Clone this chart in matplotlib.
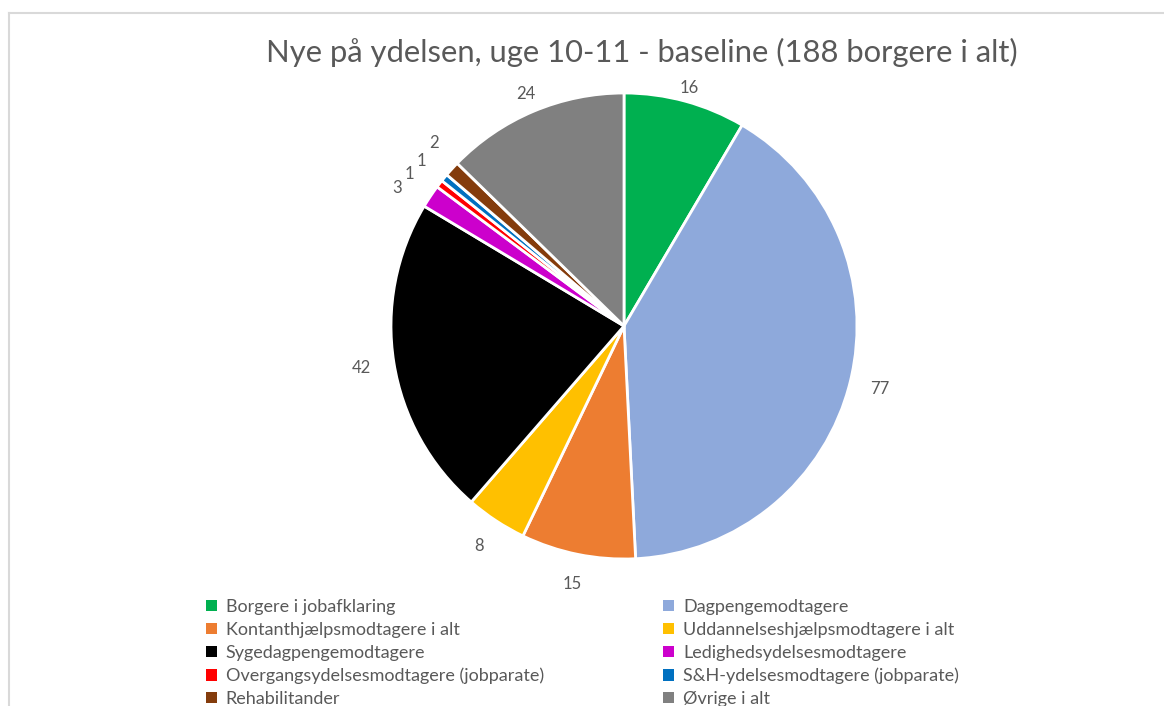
import matplotlib
matplotlib.use("Agg")
import matplotlib.pyplot as plt
from matplotlib.lines import Line2D
import numpy as np

categories = [
    "Borgere i jobafklaring",
    "Dagpengemodtagere",
    "Kontanthjælpsmodtagere i alt",
    "Uddannelseshjælpsmodtagere i alt",
    "Sygedagpengemodtagere",
    "Ledighedsydelsesmodtagere",
    "Overgangsydelsesmodtagere (jobparate)",
    "S&H-ydelsesmodtagere (jobparate)",
    "Rehabilitander",
    "Øvrige i alt",
]
values = [16, 77, 15, 8, 42, 3, 1, 1, 2, 24]
colors = ["#00B050", "#8EA9DB", "#ED7D31", "#FFC000", "#000000",
          "#CC00CC", "#FF0000", "#0070C0", "#843C0C", "#808080"]
title = "Nye på ydelsen, uge 10-11 - baseline (188 borgere i alt)"

plt.rcParams['font.family'] = ['Lato', 'DejaVu Sans']
txt_color = "#595959"

fig = plt.figure(figsize=(11.64, 7.06), dpi=100)
W, H = 1164, 706
cx, cy, r = 624, 326, 233
ax = fig.add_axes([(cx - r) / W, (H - cy - r) / H, 2 * r / W, 2 * r / H])

wedges, _ = ax.pie(values, colors=colors, startangle=90, counterclock=False,
                   radius=1.0,
                   wedgeprops=dict(edgecolor="white", linewidth=2))
ax.set_xlim(-1, 1)
ax.set_ylim(-1, 1)
ax.set_aspect('equal')
ax.axis('off')

label_dist = [1.06, 1.13, 1.13, 1.13, 1.14, 1.14, 1.13, 1.12, 1.13, 1.08]
label_shift = [0, 0, 0, 0, 0, 2.5, 2.3, 0.3, -1.5, 0]
for w, v, d, s in zip(wedges, values, label_dist, label_shift):
    ang = np.deg2rad((w.theta1 + w.theta2) / 2 + s)
    ax.text(d * np.cos(ang), d * np.sin(ang), str(v), ha="center", va="center",
            fontsize=12, color=txt_color)

fig.text(642 / W, 1 - 52 / H, title, ha="center", va="center",
         fontsize=22.3, color=txt_color)

order = [0, 2, 4, 6, 8, 1, 3, 5, 7, 9]
leg = fig.legend([wedges[i] for i in order], [categories[i] for i in order],
                 ncol=2, loc="upper left",
                 bbox_to_anchor=(206 / W, 1 - 599 / H), frameon=False,
                 fontsize=13, handlelength=0.6, handleheight=0.6,
                 handletextpad=0.5, columnspacing=6.6, labelspacing=0.38,
                 borderaxespad=0, borderpad=0)
for t in leg.get_texts():
    t.set_color(txt_color)
for h in leg.legend_handles:
    h.set_edgecolor("none")

fig.add_artist(Line2D([8.5 / W, 1], [1 - 12.5 / H, 1 - 12.5 / H], color="#d9d9d9", lw=1.5))
fig.add_artist(Line2D([8.5 / W, 8.5 / W], [0, 1 - 12.5 / H], color="#d9d9d9", lw=1.5))

fig.savefig("out.png", dpi=100)
